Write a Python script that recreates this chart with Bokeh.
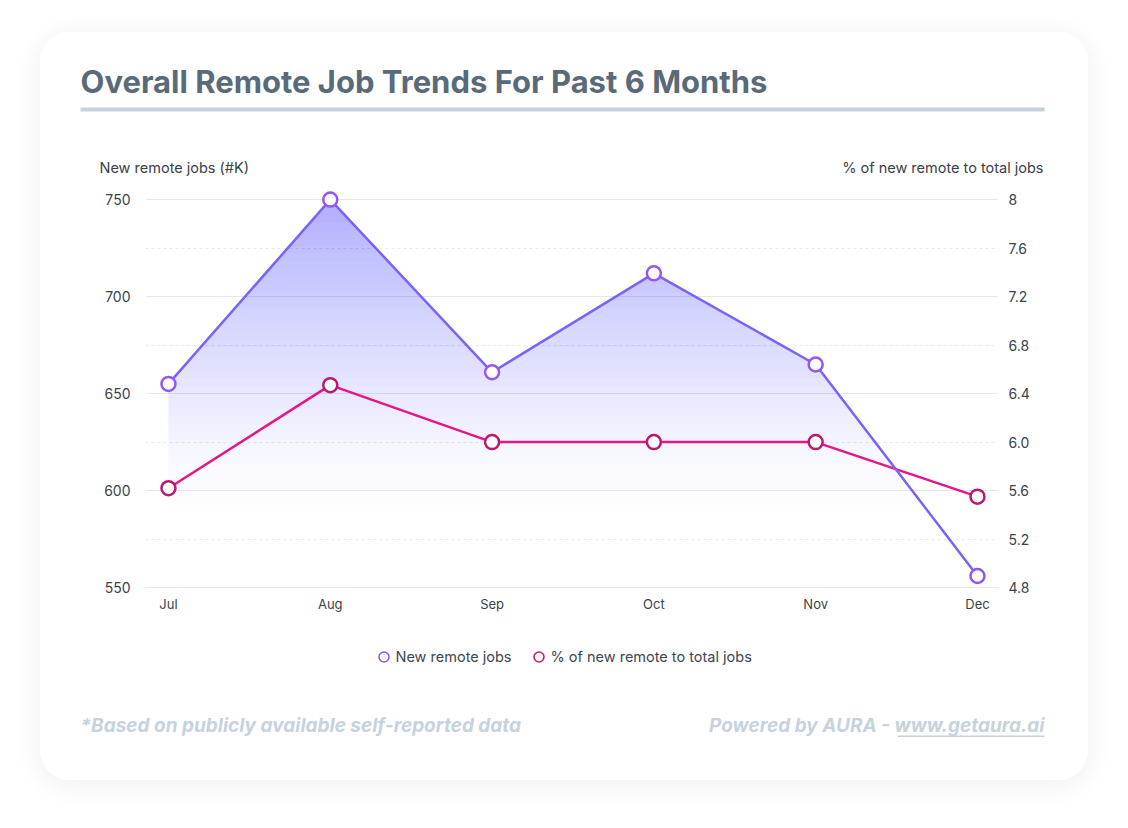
import numpy as np
from bokeh.plotting import figure
from bokeh.layouts import column, row
from bokeh.models import (Range1d, LinearAxis, FixedTicker, Label, BoxAnnotation,
                          Legend, LegendItem)
from bokeh.embed import file_html
from bokeh.resources import INLINE

# ---------------- data ----------------
months = ["Jul", "Aug", "Sep", "Oct", "Nov", "Dec"]
new_jobs = [655, 750, 661, 712, 665, 556]          # thousands
pct_jobs = [5.62, 6.47, 6.0, 6.0, 6.0, 5.55]        # percent
left_ticks = [550, 600, 650, 700, 750]
left_minor = [575, 625, 675, 725]
right_ticks = [4.8, 5.2, 5.6, 6.0, 6.4, 6.8, 7.2, 7.6, 8.0]
right_labels = ["4.8", "5.2", "5.6", "6.0", "6.4", "6.8", "7.2", "7.6", "8"]

# ---------------- layout ----------------
W = 1048
TOP_H = 144
ML, MR, MB = 105, 90, 35
FRAME_H = 415
CH_H = FRAME_H + MB
BOT_H = 748 - TOP_H - CH_H
PXU, PYU = 161.8, 1.94
x0 = -0.142
x1 = x0 + (W - ML - MR) / PXU
y0 = 548.0
y1 = y0 + FRAME_H / PYU

def to_pct(v):
    return 4.8 + (v - 550) * 3.2 / 200

FONT = "Inter"
COMMON = dict(output_backend="svg", toolbar_location=None, outline_line_color=None,
              background_fill_color="white", border_fill_color="white")

def text_panel(h):
    f = figure(width=W, height=h, x_range=Range1d(0, W), y_range=Range1d(h, 0),
               x_axis_type=None, y_axis_type=None, min_border=0, **COMMON)
    f.grid.visible = False
    return f

# ---------------- header ----------------
top = text_panel(TOP_H)
top.add_layout(Label(x=40, y=49, text="Overall Remote Job Trends For Past 6 Months",
                     text_baseline="middle", text_align="left", text_font=FONT,
                     text_font_size="31px", text_font_style="bold", text_color="#5a6a77"))
top.add_layout(BoxAnnotation(left=40, right=1004, top=75, bottom=79,
                             fill_color="#c6d1db", fill_alpha=1, line_color=None))
top.add_layout(Label(x=59, y=135, text="New remote jobs (#K)", text_baseline="middle",
                     text_align="left", text_font=FONT, text_font_size="14.5px",
                     text_color="#3a4048"))
top.add_layout(Label(x=1003, y=135, text="% of new remote to total jobs",
                     text_baseline="middle", text_align="right", text_font=FONT,
                     text_font_size="14.5px", text_color="#3a4048"))

# ---------------- chart ----------------
p = figure(width=W, height=CH_H, x_range=Range1d(x0, x1), y_range=Range1d(y0, y1),
           min_border_left=ML, min_border_right=MR, min_border_top=0, min_border_bottom=MB,
           **COMMON)
p.extra_y_ranges = {"pct": Range1d(to_pct(y0), to_pct(y1))}

xa = p.xaxis[0]
xa.ticker = FixedTicker(ticks=list(range(len(months))))
xa.major_label_overrides = {i: m for i, m in enumerate(months)}
ya = p.yaxis[0]
ya.ticker = FixedTicker(ticks=left_ticks, minor_ticks=left_minor)
ra = LinearAxis(y_range_name="pct", ticker=FixedTicker(ticks=right_ticks),
                major_label_overrides={t: l for t, l in zip(right_ticks, right_labels)})
p.add_layout(ra, "right")
for ax, st, fs in ((xa, 4, "13px"), (ya, 15, "14px"), (ra, 10, "14px")):
    ax.axis_line_color = None
    ax.major_tick_line_color = None
    ax.minor_tick_line_color = None
    ax.major_tick_out = 0
    ax.major_tick_in = 0
    ax.minor_tick_out = 0
    ax.minor_tick_in = 0
    ax.major_label_text_font = FONT
    ax.major_label_text_font_size = fs
    ax.major_label_text_color = "#3a434c"
    ax.major_label_standoff = st

p.xgrid.visible = False
p.ygrid.grid_line_color = "#e4e8ee"
p.ygrid.grid_line_width = 1
p.ygrid.minor_grid_line_color = "#e6e9ee"
p.ygrid.minor_grid_line_dash = "3 3"

# gradient area under the new-jobs line (stacked translucent layers)
xs = np.linspace(0, len(months) - 1, 1001)
dense = np.interp(xs, np.arange(len(months)), new_jobs)
levels = np.arange(590, 750, 4.0)
def target(y):
    return 0.46 * np.clip((y - 590) / 160.0, 0, 1) ** 1.3
prev = 0.0
for lv in levels:
    c = target(lv + 4)
    a = 1 - (1 - c) / (1 - prev)
    prev = c
    p.varea(x=xs, y1=lv, y2=np.maximum(dense, lv), fill_color="#7b61ff", fill_alpha=float(a))

p.line(list(range(6)), pct_jobs, y_range_name="pct", line_color="#e3168b", line_width=2.5)
p.line(list(range(6)), new_jobs, line_color="#7b61ff", line_width=2.5)
p.scatter(list(range(6)), pct_jobs, y_range_name="pct", size=14, marker="circle",
          fill_color="white", line_color="#bd1870", line_width=2.5)
p.scatter(list(range(6)), new_jobs, size=14, marker="circle",
          fill_color="white", line_color="#9457f7", line_width=2.5)

# ---------------- footer (legend + notes) ----------------
bot = text_panel(BOT_H)
lr1 = bot.scatter(list(range(6)), new_jobs, marker="circle", size=9, fill_color="white",
                  line_color="#8b5cf6", line_width=1.6, visible=False)
lr2 = bot.scatter(list(range(6)), pct_jobs, marker="circle", size=9, fill_color="white",
                  line_color="#cc1a7a", line_width=1.6, visible=False)
legend = Legend(items=[LegendItem(label="New remote jobs", renderers=[lr1]),
                       LegendItem(label="% of new remote to total jobs", renderers=[lr2])],
                orientation="horizontal", location=(330.5, BOT_H - 42.5),
                border_line_color=None, background_fill_alpha=0,
                label_text_font=FONT, label_text_font_size="14.5px",
                label_text_color="#3d4650", glyph_width=25, glyph_height=25,
                spacing=14, label_standoff=0, margin=0, padding=0,
                click_policy="none")
bot.add_layout(legend)
bot.add_layout(Label(x=40, y=99, text="*Based on publicly available self-reported data",
                     text_baseline="middle", text_align="left", text_font=FONT,
                     text_font_size="19px", text_font_style="bold italic", text_color="#c6d2dc"))
bot.add_layout(Label(x=1004, y=99, text="Powered by AURA - www.getaura.ai",
                     text_baseline="middle", text_align="right", text_font=FONT,
                     text_font_size="19px", text_font_style="bold italic", text_color="#c6d2dc"))
bot.add_layout(BoxAnnotation(left=857, right=1004, top=109, bottom=110.5,
                             fill_color="#c6d2dc", fill_alpha=1, line_color=None))

card = column(top, row(p), bot, spacing=0)
card.margin = (32, 0, 0, 40)
card.styles = {"background-color": "white", "border-radius": "30px", "overflow": "hidden",
               "box-shadow": "0 4px 28px rgba(0,0,0,0.07)"}

open("out.html", "w").write(file_html(card, INLINE))
